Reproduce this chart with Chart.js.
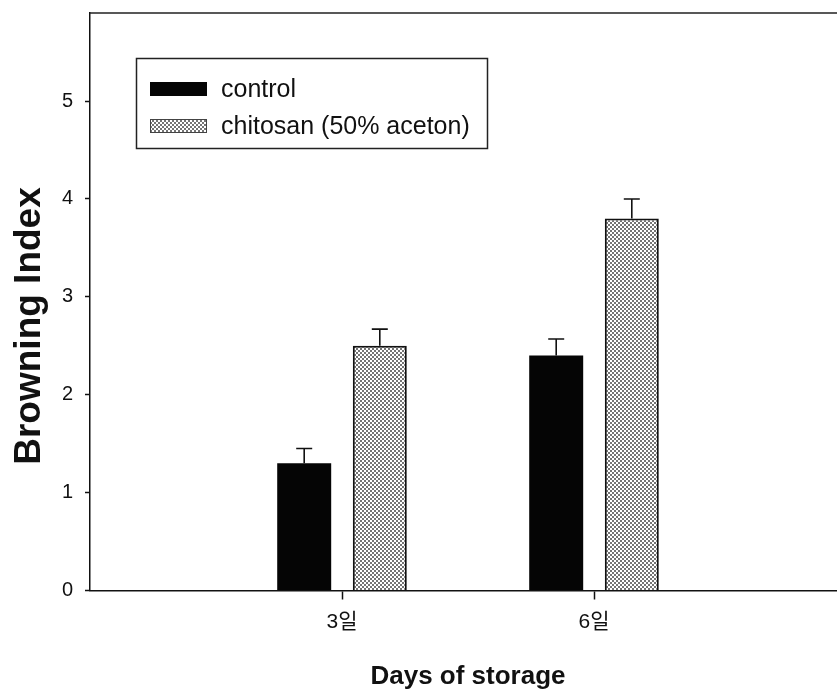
<!DOCTYPE html>
<html>
<head>
<meta charset="utf-8">
<script src="https://cdn.jsdelivr.net/npm/chart.js@4/dist/chart.umd.min.js"></script>
<style>
  html, body { margin: 0; padding: 0; background: #fff; overflow: hidden; }
  #wrap { width: 860px; height: 699px; }
</style>
</head>
<body>
<div id="wrap"><canvas id="c" width="860" height="699"></canvas></div>
<script>
// Storage days (outer empty slots pad the axis out to day 0 and day 9)
const categories = ['', '3일', '6일', ''];
const seriesNames = ['control', 'chitosan (50% aceton)'];
const controlValues = [null, 1.3, 2.4, null];
const controlErrors = [null, 0.15, 0.17, null];
const chitosanValues = [null, 2.5, 3.8, null];
const chitosanErrors = [null, 0.17, 0.2, null];
const yTickValues = [0, 1, 2, 3, 4, 5];
const yTitle = 'Browning Index';
const xTitle = 'Days of storage';

const FONT = "'Liberation Sans', Arial, 'Noto Sans CJK KR', sans-serif";

const ctx0 = document.getElementById('c').getContext('2d');

// Dotted fill for the chitosan bars
const chitosanFill = ctx0.createPattern((() => {
  const t = document.createElement('canvas');
  t.width = 4; t.height = 4;
  const g = t.getContext('2d');
  g.fillStyle = '#ffffff';
  g.fillRect(0, 0, 4, 4);
  g.fillStyle = '#747474';
  g.fillRect(0, 0, 2, 2);
  g.fillRect(2, 2, 2, 2);
  return t;
})(), 'repeat');

const errorSets = [controlErrors, chitosanErrors];

// Error bars drawn upward from each bar top
const errorBarPlugin = {
  id: 'errorBars',
  afterDatasetsDraw(chart) {
    const ctx = chart.ctx;
    const y = chart.scales.y;
    ctx.save();
    ctx.strokeStyle = '#111';
    ctx.lineWidth = 1.6;
    chart.data.datasets.forEach((ds, di) => {
      const meta = chart.getDatasetMeta(di);
      meta.data.forEach((bar, i) => {
        const v = ds.data[i];
        const e = errorSets[di][i];
        if (v == null || e == null) return;
        const top = y.getPixelForValue(v + e);
        ctx.beginPath();
        ctx.moveTo(bar.x, bar.y);
        ctx.lineTo(bar.x, top);
        ctx.moveTo(bar.x - 8, top);
        ctx.lineTo(bar.x + 8, top);
        ctx.stroke();
      });
    });
    ctx.restore();
  }
};

// Frame line along the top and right of the plot area, plus the y title
const framePlugin = {
  id: 'frame',
  afterDraw(chart) {
    const { ctx, chartArea: a } = chart;
    ctx.save();
    ctx.strokeStyle = '#222';
    ctx.lineWidth = 1.5;
    ctx.beginPath();
    ctx.moveTo(a.left, a.top);
    ctx.lineTo(a.right, a.top);
    ctx.lineTo(a.right, a.bottom);
    ctx.stroke();

    ctx.translate(30, 326);
    ctx.rotate(-Math.PI / 2);
    ctx.fillStyle = '#111';
    ctx.font = 'bold 37px ' + FONT;
    ctx.textAlign = 'center';
    ctx.textBaseline = 'middle';
    ctx.fillText(yTitle, 0, 0);
    ctx.restore();
  }
};

// Boxed legend inside the plot
const boxLegendPlugin = {
  id: 'boxLegend',
  afterDraw(chart) {
    const ctx = chart.ctx;
    ctx.save();
    ctx.strokeStyle = '#222';
    ctx.lineWidth = 1.5;
    ctx.strokeRect(136.5, 58.5, 351, 90);
    const rows = [89, 126];
    chart.data.datasets.forEach((ds, i) => {
      const cy = rows[i];
      ctx.fillStyle = ds.backgroundColor;
      ctx.fillRect(150, cy - 7, 57, 14);
      if (i === 1) {
        ctx.strokeStyle = '#444';
        ctx.lineWidth = 1;
        ctx.strokeRect(150.5, cy - 6.5, 56, 13);
      }
      ctx.fillStyle = '#111';
      ctx.font = '25px ' + FONT;
      ctx.textBaseline = 'middle';
      ctx.textAlign = 'left';
      ctx.fillText(ds.label, 221, cy + 1);
    });
    ctx.restore();
  }
};

new Chart(ctx0, {
  type: 'bar',
  data: {
    labels: categories,
    datasets: [
      {
        label: seriesNames[0],
        data: controlValues,
        backgroundColor: '#050505',
        borderColor: '#050505',
        borderWidth: 0,
        categoryPercentage: 0.6,
        barPercentage: 0.714
      },
      {
        label: seriesNames[1],
        data: chitosanValues,
        backgroundColor: chitosanFill,
        borderColor: '#111',
        borderWidth: 2,
        categoryPercentage: 0.6,
        barPercentage: 0.714
      }
    ]
  },
  options: {
    responsive: false,
    animation: false,
    devicePixelRatio: 1,
    layout: { padding: { top: 13, right: 14, left: 0, bottom: 0 } },
    plugins: {
      legend: { display: false },
      tooltip: { enabled: false }
    },
    scales: {
      x: {
        offset: false,
        grid: {
          offset: false,
          drawOnChartArea: false,
          drawTicks: true,
          tickLength: 9,
          tickWidth: 1.5,
          color: (c) => (c.tick && c.tick.label) ? '#111' : 'rgba(0,0,0,0)'
        },
        border: { display: true, color: '#111', width: 1.5 },
        ticks: {
          color: '#111',
          padding: 10,
          maxRotation: 0,
          autoSkip: false,
          font: { family: FONT, size: 21 }
        },
        title: {
          display: true,
          text: xTitle,
          color: '#111',
          font: { family: FONT, size: 26, weight: 'bold' },
          padding: { top: 0, bottom: 7 }
        },
        afterFit: (s) => { s.height = 108.5; }
      },
      y: {
        min: 0,
        max: 5.9,
        afterBuildTicks: (s) => { s.ticks = yTickValues.map(v => ({ value: v })); },
        grid: {
          drawOnChartArea: false,
          drawTicks: true,
          tickLength: 5,
          tickWidth: 1.5,
          color: '#111'
        },
        border: { display: true, color: '#111', width: 1.5 },
        ticks: {
          color: '#111',
          padding: 12,
          font: { family: FONT, size: 20 }
        },
        title: { display: false },
        afterFit: (s) => { s.width = 90; s.paddingTop = 0; s.paddingBottom = 0; }
      }
    }
  },
  plugins: [errorBarPlugin, framePlugin, boxLegendPlugin]
});
</script>
</body>
</html>
